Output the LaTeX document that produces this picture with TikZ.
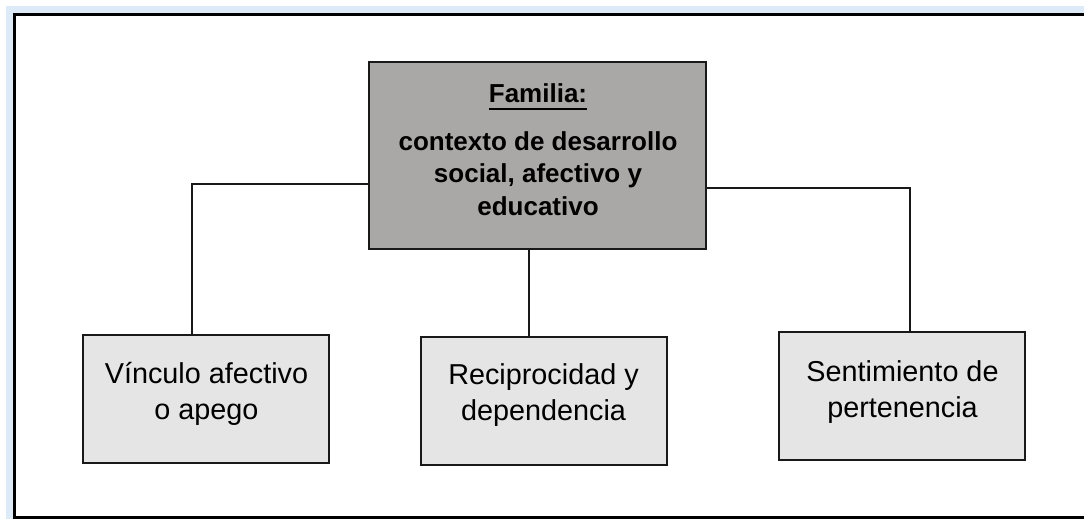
\documentclass[tikz,border=0pt]{standalone}
\usepackage{fontspec}
\setmainfont{Liberation Sans}
\newsavebox{\ulbox}
\newcommand\myul[1]{\sbox{\ulbox}{#1}\usebox{\ulbox}\hspace{-\wd\ulbox}\rule[-8pt]{\wd\ulbox}{2pt}}
\definecolor{framblue}{RGB}{220,235,247}
\definecolor{topgray}{RGB}{170,167,167}
\definecolor{lowgray}{RGB}{229,229,229}
\tikzset{
  x=1pt, y=-1pt,
  topbox/.style={draw=black!90, line width=2.6pt, fill=topgray, inner sep=0pt, minimum width=337pt, minimum height=187pt},
  lowbox/.style={draw=black!90, line width=2.8pt, fill=lowgray, inner sep=0pt, minimum width=246pt, minimum height=128pt},
  toptext/.style={align=center, font=\fontsize{26}{32.5}\selectfont\bfseries, inner sep=0pt},
  lowtext/.style={align=center, font=\fontsize{28.8}{36}\selectfont, inner sep=0pt},
  conn/.style={draw=black!90, line width=2.4pt}
}
\begin{document}
\begin{tikzpicture}
\useasboundingbox (0,0) rectangle (1084,519);
\clip (0,0) rectangle (1084,519);
\fill[framblue] (6,6) rectangle (1090,525);
\draw[line width=3pt, fill=white] (14.5,14.5) rectangle (1095,517.5);
% boxes
\node[topbox] (fam) at (537.5,155.5) {};
\node[lowbox] (vin) at (206,399) {};
\node[lowbox] (rec) at (544,401) {};
\node[lowbox] (sen) at (902,396) {};
% texts
\node[toptext] (famtxt) at (538,149.5) {\myul{Familia:}\\[15.5pt]contexto de desarrollo\\social, afectivo y\\educativo};
\node[lowtext] (vintxt) at (206.5,393.7) {Vínculo afectivo\\o apego};
\node[lowtext] (rectxt) at (543.5,395.5) {Reciprocidad y\\dependencia};
\node[lowtext] (sentxt) at (902.5,392) {Sentimiento de\\pertenencia};
% connectors
\draw[conn] ([yshift=-28.5pt]fam.west) -| ([xshift=-14pt]vin.north);
\draw[conn] ([yshift=-32.5pt]fam.east) -| ([xshift=8pt]sen.north);
\draw[conn] ([xshift=-8.5pt]fam.south) -- ([xshift=-8.5pt]fam.south |- rec.north);
\end{tikzpicture}
\end{document}
